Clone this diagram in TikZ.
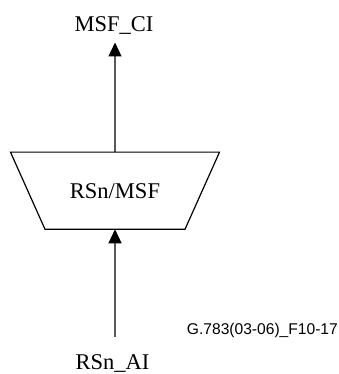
\documentclass[tikz,border=0pt]{standalone}
\usepackage{fontspec}
\setmainfont{Liberation Serif}
\newfontfamily\figfont{Liberation Sans}
\usetikzlibrary{arrows.meta,shapes.geometric}

\begin{document}
\begin{tikzpicture}[x=1pt, y=1pt, line width=1.2pt,
    flow/.style={-{Triangle[width=13pt,length=14pt]}},
    sig/.style={font=\fontsize{22.5}{27}\selectfont}]
    \useasboundingbox (0,0) rectangle (338,374);

    % Draw adaptation function
    \node[draw, trapezium, trapezium stretches body=true, shape border rotate=180,
          trapezium angle=65.9, minimum width=209pt,
          inner xsep=0pt, inner ysep=31pt, outer sep=0pt, sig] (rsmsf) at (115,183.3) {RSn/MSF};

    % Draw signals
    \node[sig, anchor=base] (ci) at (114,342.3) {MSF\_CI};
    \node[sig, anchor=base] (ai) at (112.5,4.5) {RSn\_AI};
    \coordinate (citip) at (115,331.5);
    \coordinate (aiend) at (115,37);

    % Draw connections
    \draw[flow] (rsmsf.north) -- (citip);
    \draw[flow] (aiend) -- (rsmsf.south);

    % Figure number
    \node[font=\figfont\fontsize{15.6}{18}\selectfont, anchor=base west] (figid) at (183,39) {G.783(03-06)\_F10-17};
\end{tikzpicture}
\end{document}
